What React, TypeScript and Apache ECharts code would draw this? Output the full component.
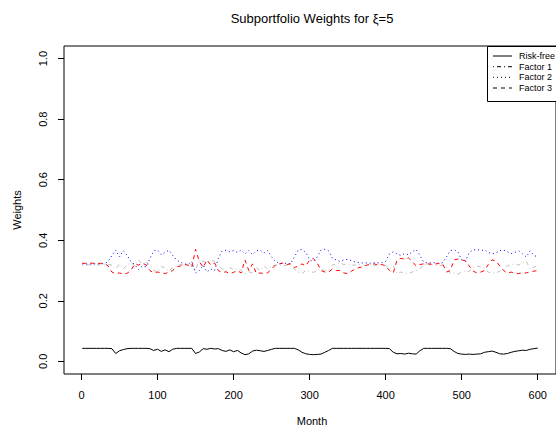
import React, { useEffect, useRef } from "react";
import * as echarts from "echarts";

const months = [
  1, 5, 10, 15, 20, 25, 30, 35, 40, 45,
  50, 55, 60, 65, 70, 75, 80, 85, 90, 95,
  100, 105, 110, 115, 120, 125, 130, 135, 140, 145,
  150, 155, 160, 165, 170, 175, 180, 185, 190, 195,
  200, 205, 210, 215, 220, 225, 230, 235, 240, 245,
  250, 255, 260, 265, 270, 275, 280, 285, 290, 295,
  300, 305, 310, 315, 320, 325, 330, 335, 340, 345,
  350, 355, 360, 365, 370, 375, 380, 385, 390, 395,
  400, 405, 410, 415, 420, 425, 430, 435, 440, 445,
  450, 455, 460, 465, 470, 475, 480, 485, 490, 495,
  500, 505, 510, 515, 520, 525, 530, 535, 540, 545,
  550, 555, 560, 565, 570, 575, 580, 585, 590, 595,
  600,
];

const riskFree = [
  0.043, 0.043, 0.043, 0.043, 0.043, 0.043, 0.043, 0.043, 0.042, 0.026,
  0.035, 0.039, 0.042, 0.043, 0.043, 0.043, 0.043, 0.043, 0.042, 0.036,
  0.040, 0.033, 0.038, 0.032, 0.040, 0.043, 0.043, 0.043, 0.043, 0.043,
  0.026, 0.031, 0.042, 0.040, 0.043, 0.041, 0.042, 0.036, 0.033, 0.038,
  0.032, 0.036, 0.028, 0.022, 0.025, 0.034, 0.037, 0.035, 0.033, 0.036,
  0.040, 0.043, 0.043, 0.043, 0.043, 0.043, 0.043, 0.038, 0.030, 0.025,
  0.023, 0.022, 0.023, 0.024, 0.030, 0.036, 0.043, 0.043, 0.043, 0.043,
  0.043, 0.043, 0.043, 0.043, 0.043, 0.043, 0.043, 0.043, 0.043, 0.043,
  0.043, 0.042, 0.030, 0.025, 0.026, 0.024, 0.027, 0.025, 0.024, 0.035,
  0.043, 0.043, 0.043, 0.043, 0.043, 0.043, 0.043, 0.042, 0.033, 0.026,
  0.024, 0.023, 0.024, 0.023, 0.024, 0.025, 0.030, 0.032, 0.034, 0.030,
  0.025, 0.024, 0.026, 0.030, 0.033, 0.035, 0.037, 0.036, 0.040, 0.042,
  0.044,
];

const factor1 = [
  0.318, 0.318, 0.319, 0.318, 0.320, 0.318, 0.318, 0.320, 0.318, 0.305,
  0.322, 0.306, 0.318, 0.328, 0.316, 0.335, 0.318, 0.328, 0.318, 0.300,
  0.295, 0.313, 0.310, 0.298, 0.310, 0.315, 0.320, 0.318, 0.323, 0.320,
  0.302, 0.335, 0.330, 0.328, 0.335, 0.330, 0.318, 0.305, 0.300, 0.310,
  0.303, 0.305, 0.302, 0.290, 0.296, 0.292, 0.310, 0.300, 0.315, 0.305,
  0.315, 0.318, 0.320, 0.315, 0.318, 0.320, 0.305, 0.295, 0.290, 0.300,
  0.298, 0.294, 0.300, 0.305, 0.300, 0.306, 0.318, 0.322, 0.325, 0.320,
  0.322, 0.318, 0.318, 0.320, 0.318, 0.316, 0.318, 0.315, 0.320, 0.318,
  0.318, 0.305, 0.315, 0.290, 0.295, 0.292, 0.290, 0.295, 0.300, 0.305,
  0.320, 0.318, 0.320, 0.318, 0.316, 0.318, 0.310, 0.290, 0.292, 0.288,
  0.295, 0.296, 0.298, 0.310, 0.315, 0.312, 0.305, 0.295, 0.292, 0.292,
  0.298, 0.302, 0.315, 0.320, 0.322, 0.318, 0.325, 0.330, 0.305, 0.312,
  0.315,
];

const factor2 = [
  0.322, 0.322, 0.321, 0.322, 0.322, 0.323, 0.322, 0.330, 0.350, 0.368,
  0.345, 0.366, 0.350, 0.330, 0.320, 0.303, 0.315, 0.312, 0.340, 0.365,
  0.368, 0.352, 0.360, 0.367, 0.350, 0.335, 0.328, 0.322, 0.320, 0.330,
  0.292, 0.300, 0.318, 0.295, 0.305, 0.300, 0.340, 0.365, 0.367, 0.362,
  0.366, 0.360, 0.368, 0.355, 0.366, 0.352, 0.365, 0.368, 0.358, 0.366,
  0.345, 0.330, 0.325, 0.322, 0.325, 0.322, 0.345, 0.368, 0.370, 0.360,
  0.335, 0.330, 0.345, 0.368, 0.370, 0.365, 0.340, 0.335, 0.330, 0.335,
  0.337, 0.333, 0.328, 0.326, 0.325, 0.325, 0.324, 0.326, 0.325, 0.326,
  0.330, 0.355, 0.362, 0.355, 0.350, 0.356, 0.352, 0.362, 0.370, 0.350,
  0.328, 0.325, 0.325, 0.326, 0.324, 0.326, 0.345, 0.366, 0.368, 0.362,
  0.335, 0.330, 0.360, 0.368, 0.370, 0.366, 0.368, 0.360, 0.355, 0.358,
  0.366, 0.368, 0.362, 0.356, 0.360, 0.365, 0.355, 0.345, 0.365, 0.350,
  0.345,
];

const factor3 = [
  0.324, 0.324, 0.325, 0.324, 0.323, 0.324, 0.324, 0.315, 0.295, 0.290,
  0.292, 0.288, 0.291, 0.300, 0.322, 0.318, 0.325, 0.318, 0.300, 0.292,
  0.295, 0.293, 0.290, 0.295, 0.300, 0.312, 0.315, 0.320, 0.318, 0.310,
  0.370, 0.330, 0.310, 0.335, 0.318, 0.325, 0.300, 0.293, 0.296, 0.290,
  0.294, 0.300, 0.292, 0.335, 0.300, 0.322, 0.290, 0.292, 0.290, 0.293,
  0.305, 0.318, 0.322, 0.325, 0.320, 0.322, 0.310, 0.315, 0.322, 0.315,
  0.335, 0.340, 0.325, 0.300, 0.295, 0.295, 0.305, 0.300, 0.300, 0.292,
  0.290, 0.298, 0.305, 0.310, 0.312, 0.318, 0.320, 0.322, 0.318, 0.320,
  0.315, 0.300, 0.292, 0.335, 0.340, 0.338, 0.342, 0.330, 0.315, 0.320,
  0.322, 0.322, 0.321, 0.322, 0.323, 0.322, 0.295, 0.300, 0.335, 0.338,
  0.335, 0.332, 0.315, 0.298, 0.292, 0.295, 0.300, 0.320, 0.335, 0.332,
  0.315, 0.300, 0.292, 0.295, 0.290, 0.290, 0.293, 0.292, 0.296, 0.298,
  0.300,
];

const xTicks = [0, 100, 200, 300, 400, 500, 600];
const yTicks = [0, 0.2, 0.4, 0.6, 0.8, 1.0];
const legendNames = ["Risk-free", "Factor 1", "Factor 2", "Factor 3"];

const FONT = "'Liberation Sans', Arial, Helvetica, sans-serif";

export default function App() {
  const ref = useRef<HTMLDivElement>(null);

  useEffect(() => {
    if (!ref.current) return;
    const chart = echarts.init(ref.current, null, { renderer: "svg" });

    const pairs = (vals: number[]) => months.map((m, i) => [m, vals[i]]);
    const dashes: (number[] | "solid")[] = ["solid", [1, 3, 4, 3], [1, 3], [4, 4]];
    const colors = ["#000000", "#bebebe", "#0000ff", "#ff0000"];
    const seriesVals = [riskFree, factor1, factor2, factor3];

    const legendY = [56, 66.7, 77.3, 88];
    const legendGraphics: any[] = [
      {
        type: "rect",
        shape: { x: 487.5, y: 46.5, width: 100, height: 55 },
        style: { fill: "#fff", stroke: "#000", lineWidth: 1 },
        z: 100,
      },
    ];
    legendNames.forEach((name, i) => {
      legendGraphics.push({
        type: "line",
        shape: { x1: 493, y1: legendY[i], x2: 512, y2: legendY[i] },
        style: {
          stroke: "#000",
          lineWidth: 1,
          lineDash: dashes[i] === "solid" ? null : dashes[i],
        },
        z: 101,
      });
      legendGraphics.push({
        type: "text",
        x: 519,
        y: legendY[i],
        style: {
          text: name,
          fontSize: 9,
          fontFamily: FONT,
          fill: "#000",
          align: "left",
          verticalAlign: "middle",
        },
        z: 101,
      });
    });

    chart.setOption({
      animation: false,
      backgroundColor: "#fff",
      grid: {
        left: 64,
        top: 46,
        width: 497,
        height: 328,
        show: true,
        borderColor: "#000",
        borderWidth: 1,
        backgroundColor: "transparent",
      },
      xAxis: {
        type: "value",
        min: -23,
        max: 624,
        axisLine: { show: false, onZero: false },
        splitLine: { show: false },
        axisTick: {
          show: true,
          customValues: xTicks,
          length: 6,
          lineStyle: { color: "#000" },
        },
        axisLabel: {
          customValues: xTicks,
          color: "#000",
          fontSize: 11,
          fontFamily: FONT,
          margin: 15,
        },
      },
      yAxis: {
        type: "value",
        min: -0.0417,
        max: 1.0417,
        axisLine: { show: false, onZero: false },
        splitLine: { show: false },
        axisTick: {
          show: true,
          customValues: yTicks,
          length: 6,
          lineStyle: { color: "#000" },
        },
        axisLabel: {
          customValues: yTicks,
          rotate: 90,
          color: "#000",
          fontSize: 11,
          fontFamily: FONT,
          margin: 16,
          formatter: (v: number) => v.toFixed(1),
        },
      },
      series: seriesVals.map((vals, i) => ({
        type: "line",
        name: legendNames[i],
        data: pairs(vals),
        showSymbol: false,
        symbol: "none",
        lineStyle: {
          color: colors[i],
          width: 1,
          type: dashes[i],
        },
        z: 2 + i,
      })),
      graphic: [
        {
          type: "text",
          x: 312,
          y: 18,
          style: {
            text: "Subportfolio Weights for ξ=5",
            fontSize: 13,
            fontFamily: FONT,
            fill: "#000",
            align: "center",
            verticalAlign: "middle",
          },
        },
        {
          type: "text",
          x: 312,
          y: 421,
          style: {
            text: "Month",
            fontSize: 11,
            fontFamily: FONT,
            fill: "#000",
            align: "center",
            verticalAlign: "middle",
          },
        },
        {
          type: "text",
          x: 17,
          y: 210,
          rotation: Math.PI / 2,
          style: {
            text: "Weights",
            fontSize: 11,
            fontFamily: FONT,
            fill: "#000",
            align: "center",
            verticalAlign: "middle",
          },
        },
        ...legendGraphics,
      ],
    });

    return () => chart.dispose();
  }, []);

  return (
    <div
      ref={ref}
      style={{ position: "fixed", left: 0, top: 0, width: 556, height: 434 }}
    />
  );
}
